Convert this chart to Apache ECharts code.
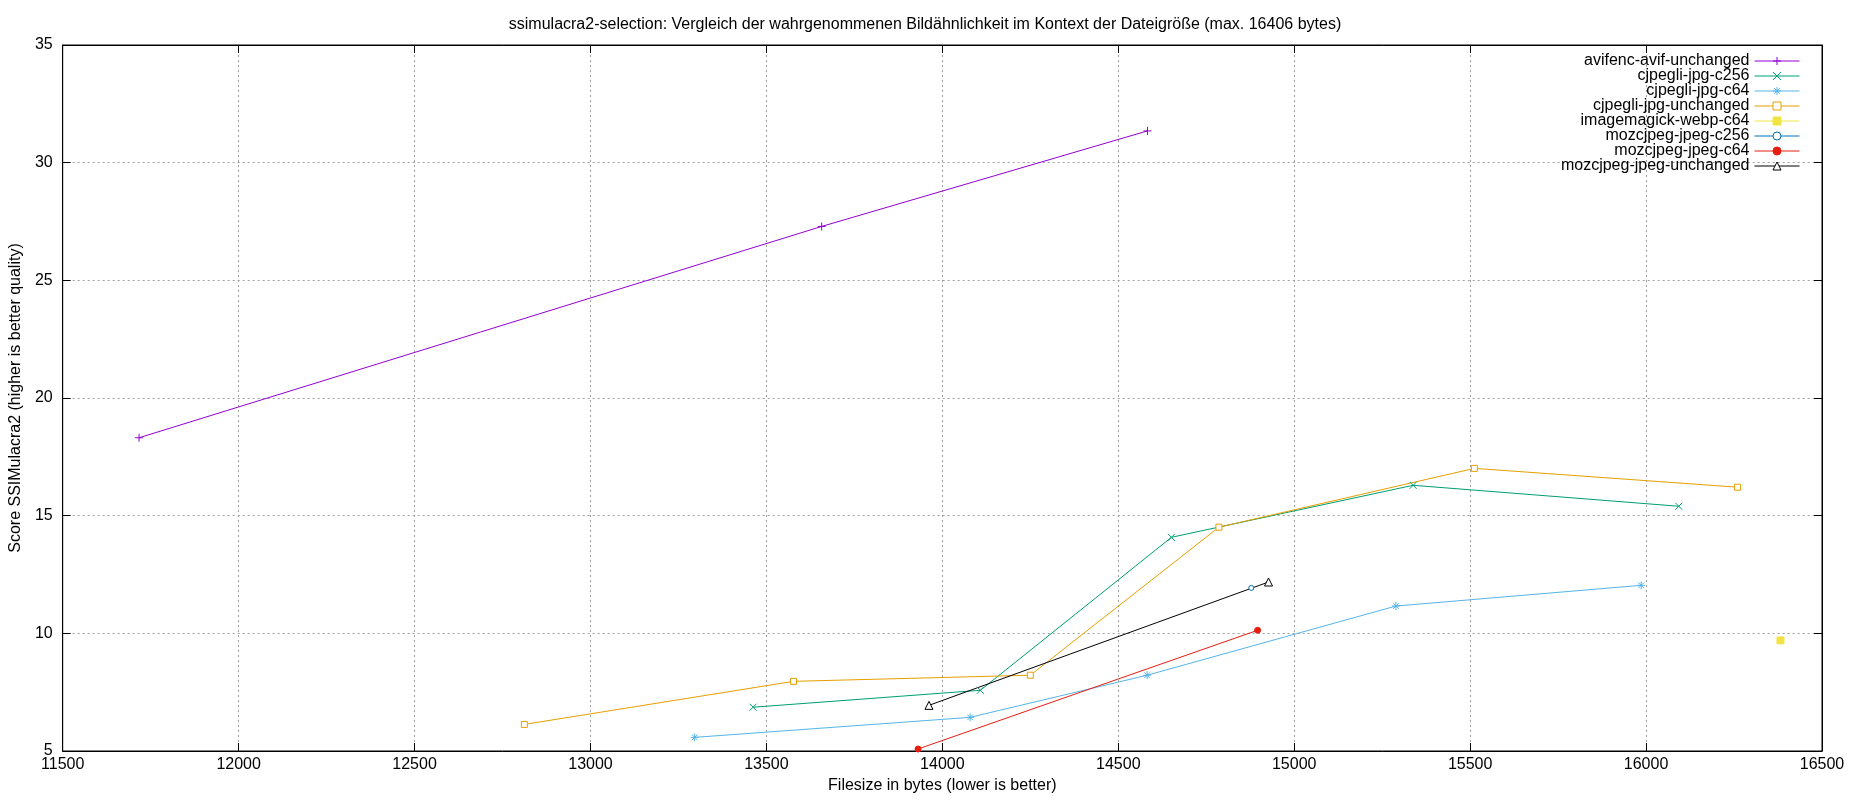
<!DOCTYPE html>
<html>
<head>
<meta charset="utf-8">
<script src="https://cdn.jsdelivr.net/npm/echarts@6/dist/echarts.min.js"></script>
<style>
  html, body { margin: 0; padding: 0; background: #fff; }
  #chart { width: 1850px; height: 800px; }
</style>
</head>
<body>
<div id="chart"></div>
<script>
// Werte (Dateigröße in Bytes, Score)
var avifUnchangedX = [11717, 13657, 14583];
var avifUnchangedY = [18.31, 27.29, 31.35];

var jpgC256X = [13462, 14108, 14651, 15338, 16093];
var jpgC256Y = [6.86, 7.58, 14.08, 16.29, 15.40];

var jpgC64X = [13296, 14079, 14582, 15289, 15986];
var jpgC64Y = [5.58, 6.43, 8.22, 11.16, 12.04];

var jpgUnchangedX = [12812, 13577, 14250, 14786, 15512, 16260];
var jpgUnchangedY = [6.13, 7.96, 8.22, 14.51, 17.01, 16.21];

var webpC64X = [16382];
var webpC64Y = [9.70];

var mozC256X = [14878];
var mozC256Y = [11.93];

var mozC64X = [13931, 14896];
var mozC64Y = [5.085, 10.13];

var mozUnchangedX = [13962, 14927];
var mozUnchangedY = [6.94, 12.18];

var seriesNames = [
  'avifenc-avif-unchanged',
  'cjpegli-jpg-c256',
  'cjpegli-jpg-c64',
  'cjpegli-jpg-unchanged',
  'imagemagick-webp-c64',
  'mozcjpeg-jpeg-c256',
  'mozcjpeg-jpeg-c64',
  'mozcjpeg-jpeg-unchanged'
];

var FONT = '"Liberation Sans", Arial, sans-serif';

// Symbole wie bei gnuplot
var PLUS = 'path://M0,5L10,5M5,0L5,10';
var CROSS = 'path://M0,0L10,10M10,0L0,10';
var STAR = 'path://M0,5L10,5M5,0L5,10M1.5,1.5L8.5,8.5M8.5,1.5L1.5,8.5';

function pairs(xs, ys) {
  return xs.map(function (x, i) { return [x, ys[i]]; });
}

function makeSeries(name, xs, ys, color, symbol, size, filled) {
  return {
    name: name,
    type: 'line',
    data: pairs(xs, ys),
    symbol: symbol,
    symbolSize: size,
    showAllSymbol: true,
    xAxisIndex: 0,
    yAxisIndex: 0,
    lineStyle: { color: color, width: 1 },
    itemStyle: {
      color: filled ? color : '#fff',
      borderColor: color,
      borderWidth: 1
    },
    emphasis: { disabled: true }
  };
}

var chart = echarts.init(document.getElementById('chart'));

var tickStyle = { inside: true, length: 8, lineStyle: { color: '#000', width: 1 } };
var gridLine = { show: true, lineStyle: { color: '#a0a0a0', type: [2, 3], width: 1 } };

var option = {
  animation: false,
  backgroundColor: '#fff',
  title: {
    text: 'ssimulacra2-selection: Vergleich der wahrgenommenen Bildähnlichkeit im Kontext der Dateigröße (max. 16406 bytes)',
    left: 'center',
    top: 12,
    textStyle: { fontFamily: FONT, fontSize: 16, fontWeight: 'normal', color: '#000' }
  },
  legend: {
    orient: 'vertical',
    align: 'right',
    right: 45,
    top: 48,
    itemWidth: 45,
    itemHeight: 10,
    itemGap: -1,
    data: seriesNames,
    lineStyle: { width: 1 },
    itemStyle: { borderWidth: 1 },
    textStyle: { fontFamily: FONT, fontSize: 16, color: '#000', lineHeight: 15, padding: 0 }
  },
  grid: {
    left: 56,
    right: 28,
    top: 45,
    bottom: 49,
    show: true,
    borderColor: '#000',
    borderWidth: 1
  },
  xAxis: [
    {
      type: 'value',
      min: 11500,
      max: 16500,
      interval: 500,
      name: 'Filesize in bytes (lower is better)',
      nameLocation: 'middle',
      nameGap: 27,
      nameTextStyle: { fontFamily: FONT, fontSize: 16, color: '#000' },
      axisLine: { show: true, lineStyle: { color: '#000' } },
      axisTick: tickStyle,
      axisLabel: {
        fontFamily: FONT, fontSize: 16, color: '#000', margin: 6,
        formatter: function (v) { return String(v); }
      },
      splitLine: gridLine
    },
    {
      type: 'value',
      position: 'top',
      min: 11500,
      max: 16500,
      interval: 500,
      axisLine: { show: true, lineStyle: { color: '#000' } },
      axisTick: tickStyle,
      axisLabel: { show: false },
      splitLine: { show: false }
    }
  ],
  yAxis: [
    {
      type: 'value',
      min: 5,
      max: 35,
      interval: 5,
      name: 'Score SSIMulacra2 (higher is better quality)',
      nameLocation: 'middle',
      nameGap: 36,
      nameTextStyle: { fontFamily: FONT, fontSize: 16, color: '#000' },
      axisLine: { show: true, lineStyle: { color: '#000' } },
      axisTick: tickStyle,
      axisLabel: { fontFamily: FONT, fontSize: 16, color: '#000', margin: 10 },
      splitLine: gridLine
    },
    {
      type: 'value',
      position: 'right',
      min: 5,
      max: 35,
      interval: 5,
      axisLine: { show: true, lineStyle: { color: '#000' } },
      axisTick: tickStyle,
      axisLabel: { show: false },
      splitLine: { show: false }
    }
  ],
  series: [
    makeSeries(seriesNames[0], avifUnchangedX, avifUnchangedY, '#9400d3', PLUS, 8, true),
    makeSeries(seriesNames[1], jpgC256X, jpgC256Y, '#009e73', CROSS, 7, true),
    makeSeries(seriesNames[2], jpgC64X, jpgC64Y, '#56b4e9', STAR, 8, true),
    makeSeries(seriesNames[3], jpgUnchangedX, jpgUnchangedY, '#e69f00', 'rect', 6, false),
    makeSeries(seriesNames[4], webpC64X, webpC64Y, '#f0e442', 'rect', 7, true),
    makeSeries(seriesNames[5], mozC256X, mozC256Y, '#0072b2', 'circle', 5, false),
    makeSeries(seriesNames[6], mozC64X, mozC64Y, '#e51e10', 'circle', 6, true),
    makeSeries(seriesNames[7], mozUnchangedX, mozUnchangedY, '#000000', 'triangle', 8, false)
  ]
};

chart.setOption(option);
</script>
</body>
</html>
